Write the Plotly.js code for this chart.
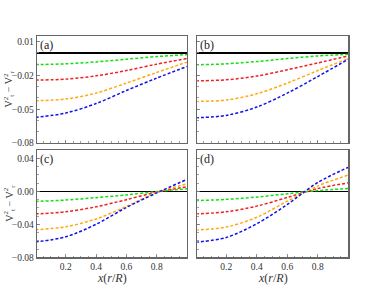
<!DOCTYPE html>
<html><head><meta charset="utf-8">
<script src="https://cdn.plot.ly/plotly-3.0.1.min.js"></script>
<style>html,body{margin:0;padding:0;background:#fff}#g{width:385px;height:294px}</style>
</head><body><div id="g"></div>
<script>
// x positions (r/R)
const xVals = [0.0, 0.2, 0.4, 0.6, 0.8, 1.0];
// panel (a)
const aGreen  = [-0.0104, -0.0097, -0.0080, -0.0056, -0.0033, -0.0015];
const aRed    = [-0.0242, -0.0233, -0.0204, -0.0157, -0.0100, -0.0050];
const aOrange = [-0.0425, -0.0410, -0.0357, -0.0268, -0.0174, -0.0082];
const aBlue   = [-0.0573, -0.0534, -0.0450, -0.0334, -0.0224, -0.0121];
// panel (b)
const bGreen  = [-0.0106, -0.0097, -0.0077, -0.0050, -0.0027, -0.0012];
const bRed    = [-0.0248, -0.0239, -0.0206, -0.0150, -0.0089, -0.0027];
const bOrange = [-0.0431, -0.0419, -0.0363, -0.0268, -0.0157, -0.0050];
const bBlue   = [-0.0576, -0.0555, -0.0481, -0.0357, -0.0210, -0.0056];
// panel (c)
const cGreen  = [-0.0123, -0.0106, -0.0077, -0.0044, -0.0003, 0.0030];
const cRed    = [-0.0274, -0.0249, -0.0188, -0.0102, -0.0010, 0.0054];
const cOrange = [-0.0466, -0.0430, -0.0335, -0.0184, -0.0015, 0.0090];
const cBlue   = [-0.0613, -0.0552, -0.0400, -0.0196, -0.0020, 0.0144];
// panel (d)
const dGreen  = [-0.0114, -0.0098, -0.0070, -0.0030, 0.0008, 0.0033];
const dRed    = [-0.0274, -0.0249, -0.0180, -0.0075, 0.0033, 0.0102];
const dOrange = [-0.0470, -0.0433, -0.0315, -0.0120, 0.0065, 0.0196];
const dBlue   = [-0.0617, -0.0560, -0.0393, -0.0160, 0.0107, 0.0290];

const topTicks = [0.01, -0.02, -0.05, -0.08];
const topTickText = ['0.01', '\u22120.02', '\u22120.05', '\u22120.08'];
const botTicks = [0.04, 0.00, -0.04, -0.08];
const botTickText = ['0.04', '0.00', '\u22120.04', '\u22120.08'];
const xTicks = [0.2, 0.4, 0.6, 0.8];
const xTickText = ['0.2', '0.4', '0.6', '0.8'];
const panelLabels = ['(a)', '(b)', '(c)', '(d)'];

const colors = ['#11e011', '#ee2222', '#ffaa11', '#1111ee'];
const panels = [
  [aGreen, aRed, aOrange, aBlue],
  [bGreen, bRed, bOrange, bBlue],
  [cGreen, cRed, cOrange, cBlue],
  [dGreen, dRed, dOrange, dBlue]
];
const axIds = ['', '2', '3', '4'];
const traces = [];
panels.forEach((series, p) => {
  series.forEach((ys, i) => {
    traces.push({
      x: xVals, y: ys, type: 'scatter', mode: 'lines',
      xaxis: 'x' + axIds[p], yaxis: 'y' + axIds[p],
      line: {color: colors[i], width: 1.5, dash: '3px,2px', shape: 'spline', smoothing: 0.9},
      hoverinfo: 'skip', showlegend: false
    });
  });
});

const SERIF = '"Liberation Serif", "DejaVu Serif", serif';
const font = {family: SERIF, size: 9.5, color: '#333'};
const xd = [[0.0961, 0.4857], [0.5125, 0.9047]];
const yd = [[0.5136, 0.8776], [0.1248, 0.4898]];
function xax(col, row) {
  return {
    domain: xd[col], anchor: 'y' + axIds[row * 2 + col], range: [0.01, 1.0],
    showgrid: false, zeroline: false, showline: true, mirror: true,
    linecolor: '#666', linewidth: 1.3,
    ticks: 'inside', ticklen: 3, tickcolor: '#777', tickwidth: 0.8,
    tickvals: xTicks, ticktext: xTickText, showticklabels: row === 1,
    tickfont: font,
    minor: {ticks: 'inside', ticklen: 1.8, tickcolor: '#888', dtick: 0.05, tick0: 0}
  };
}
function yax(col, row) {
  return {
    domain: yd[row], anchor: 'x' + axIds[row * 2 + col],
    range: row === 0 ? [-0.08, 0.015] : [-0.08, 0.05],
    showgrid: false, zeroline: true, zerolinecolor: '#000', zerolinewidth: 1.4,
    showline: true, mirror: true, linecolor: '#666', linewidth: 1.3,
    ticks: 'inside', ticklen: 3, tickcolor: '#777', tickwidth: 0.8,
    tickvals: row === 0 ? topTicks : botTicks,
    ticktext: row === 0 ? topTickText : botTickText,
    showticklabels: col === 0, tickfont: font,
    minor: {ticks: 'inside', ticklen: 1.8, tickcolor: '#888', dtick: 0.01, tick0: 0}
  };
}
const layout = {
  width: 385, height: 294, margin: {l: 0, r: 0, t: 0, b: 0},
  paper_bgcolor: '#fff', plot_bgcolor: '#fff', showlegend: false,
  font: {family: SERIF},
  xaxis: xax(0, 0), yaxis: yax(0, 0),
  xaxis2: xax(1, 0), yaxis2: yax(1, 0),
  xaxis3: xax(0, 1), yaxis3: yax(0, 1),
  xaxis4: xax(1, 1), yaxis4: yax(1, 1),
  annotations: []
};
panelLabels.forEach((t, p) => {
  layout.annotations.push({
    text: t, xref: 'x' + axIds[p] + ' domain', yref: 'y' + axIds[p] + ' domain',
    x: 0.005, y: 1.0, xanchor: 'left', yanchor: 'top', showarrow: false,
    font: {family: SERIF, size: 12, color: '#222'}
  });
});
const ylabel = 'V<sup>2</sup><sub>t</sub> \u2212 V<sup>2</sup><sub>r</sub>';
[0, 1].forEach(row => {
  layout.annotations.push({
    text: ylabel, xref: 'paper', yref: 'paper', x: 9 / 385,
    y: (yd[row][0] + yd[row][1]) / 2, textangle: -90, showarrow: false,
    xanchor: 'center', yanchor: 'middle',
    font: {family: SERIF, size: 10, color: '#333'}
  });
  layout.annotations.push({
    text: '<i>x</i>(<i>r</i>/<i>R</i>)', xref: 'paper', yref: 'paper',
    x: (xd[row][0] + xd[row][1]) / 2, y: 0, showarrow: false,
    xanchor: 'center', yanchor: 'bottom', yshift: 7,
    font: {family: SERIF, size: 12, color: '#333'}
  });
});
Plotly.newPlot('g', traces, layout, {staticPlot: true, displayModeBar: false});
</script></body></html>
